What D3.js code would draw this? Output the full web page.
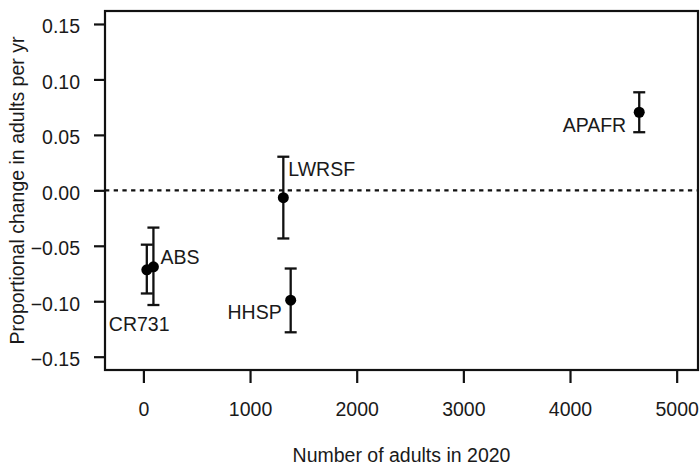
<!DOCTYPE html>
<html>
<head>
<meta charset="utf-8">
<script src="https://cdn.jsdelivr.net/npm/d3@7"></script>
<style>
  body { margin: 0; background: #fff; }
  svg { font-family: "Liberation Sans", Arial, sans-serif; }
</style>
</head>
<body>
<svg id="chart" width="700" height="468"></svg>
<script>
// data
const sites = ['CR731', 'ABS', 'HHSP', 'LWRSF', 'APAFR']
const adults = [32, 94, 1381, 1312, 4649]
const change = [-0.0717, -0.069, -0.099, -0.0066, 0.0704]
const lower = [-0.093, -0.1034, -0.128, -0.0434, 0.0524]
const upper = [-0.049, -0.0336, -0.0705, 0.0303, 0.0884]
const xTicks = [0, 1000, 2000, 3000, 4000, 5000]
const yTicks = [-0.15, -0.10, -0.05, 0.00, 0.05, 0.10, 0.15]

// where each label sits relative to its point (pixels)
const labelPos = {
    CR731: {dx: -38, dy: 61, anchor: 'start'},
    ABS: {dx: 7, dy: -3, anchor: 'start'},
    HHSP: {dx: -9, dy: 19, anchor: 'end'},
    LWRSF: {dx: 5, dy: -22, anchor: 'start'},
    APAFR: {dx: -13, dy: 20, anchor: 'end'}
}

const data = sites.map((s, i) => ({site: s, x: adults[i], y: change[i], lo: lower[i], hi: upper[i]}))

const margin = {top: 11, right: 2, bottom: 98, left: 105}
const width = 700 - margin.left - margin.right
const height = 468 - margin.top - margin.bottom

const svg = d3.select('#chart')
const g = svg.append('g')
    .attr('transform', `translate(${margin.left},${margin.top})`)

const xScale = d3.scaleLinear().domain([-360, 5200]).range([0, width])
const yScale = d3.scaleLinear().domain([-0.162, 0.1617]).range([height, 0])

const fontSize = 19.5
const ink = '#111'

// axes
const xAxis = d3.axisBottom(xScale).tickValues(xTicks).tickFormat(d3.format('d'))
    .tickSize(13).tickPadding(19).tickSizeOuter(0)
const yAxis = d3.axisLeft(yScale).tickValues(yTicks).tickFormat(d3.format('.2f'))
    .tickSize(11).tickPadding(14).tickSizeOuter(0)

const xg = g.append('g').attr('transform', `translate(0,${height})`).call(xAxis)
const yg = g.append('g').call(yAxis)
for (const ax of [xg, yg]) {
    ax.select('.domain').remove()
    ax.selectAll('.tick line').attr('stroke', ink).attr('stroke-width', 2.2)
    ax.selectAll('.tick text').attr('fill', '#1a1a1a').attr('font-size', fontSize)
        .attr('font-family', '"Liberation Sans", Arial, sans-serif')
}
yg.selectAll('.tick text').attr('dy', '0.45em')

// reference line at zero
g.append('line')
    .attr('x1', 0).attr('x2', width)
    .attr('y1', yScale(0)).attr('y2', yScale(0))
    .attr('stroke', ink).attr('stroke-width', 2.3)
    .attr('stroke-dasharray', '4.3,4.4')

// error bars
const bars = g.selectAll('.err').data(data).join('g').attr('class', 'err')
bars.append('line')
    .attr('x1', d => xScale(d.x)).attr('x2', d => xScale(d.x))
    .attr('y1', d => yScale(d.lo)).attr('y2', d => yScale(d.hi))
bars.append('line')
    .attr('x1', d => xScale(d.x) - 6).attr('x2', d => xScale(d.x) + 6)
    .attr('y1', d => yScale(d.hi)).attr('y2', d => yScale(d.hi))
bars.append('line')
    .attr('x1', d => xScale(d.x) - 6).attr('x2', d => xScale(d.x) + 6)
    .attr('y1', d => yScale(d.lo)).attr('y2', d => yScale(d.lo))
bars.selectAll('line').attr('stroke', ink).attr('stroke-width', 2.3)

// points
g.selectAll('.pt').data(data).join('circle')
    .attr('class', 'pt')
    .attr('cx', d => xScale(d.x))
    .attr('cy', d => yScale(d.y))
    .attr('r', 5.5)
    .attr('fill', '#000')

// site labels
g.selectAll('.lab').data(data).join('text')
    .attr('class', 'lab')
    .attr('x', d => xScale(d.x) + labelPos[d.site].dx)
    .attr('y', d => yScale(d.y) + labelPos[d.site].dy)
    .attr('text-anchor', d => labelPos[d.site].anchor)
    .attr('font-size', fontSize)
    .attr('fill', '#1a1a1a')
    .text(d => d.site)

// box
g.append('rect')
    .attr('width', width).attr('height', height)
    .attr('fill', 'none').attr('stroke', ink).attr('stroke-width', 2.2)

// axis titles
svg.append('text')
    .attr('x', margin.left + width / 2).attr('y', 462)
    .attr('text-anchor', 'middle').attr('font-size', fontSize).attr('fill', '#1a1a1a')
    .text('Number of adults in 2020')
svg.append('text')
    .attr('transform', `translate(24,${margin.top + height / 2}) rotate(-90)`)
    .attr('text-anchor', 'middle').attr('font-size', fontSize).attr('fill', '#1a1a1a')
    .text('Proportional change in adults per yr')
</script>
</body>
</html>
